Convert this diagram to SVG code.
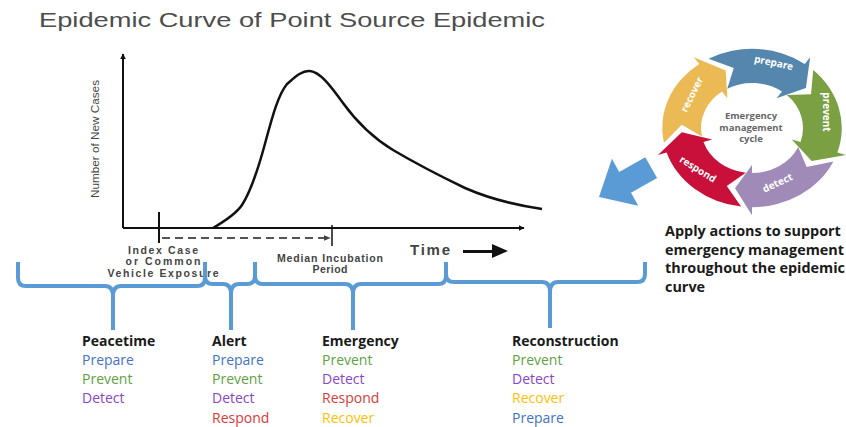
<svg xmlns="http://www.w3.org/2000/svg" xmlns:xlink="http://www.w3.org/1999/xlink" width="846" height="427" viewBox="0 0 846 427">
<style>
.title{font-family:"Liberation Sans",Arial,sans-serif;font-size:21px;fill:#4d4d4d}
.ax{font-family:"Liberation Sans",Arial,sans-serif;fill:#444}
.brace{fill:none;stroke:#5B9BD5;stroke-width:4;stroke-linejoin:round;stroke-linecap:butt}
.hd{font-family:"Open Sans","Liberation Sans",sans-serif;font-size:14px;font-weight:bold;fill:#1a1a1a}
.it{font-family:"Open Sans","Liberation Sans",sans-serif;font-size:14px}
.prep{fill:#4472C4}.prev{fill:#62A044}.det{fill:#8A45C8}.resp{fill:#D93A3A}.rec{fill:#FFC000}
.seg{font-family:"Open Sans","Liberation Sans",sans-serif;font-size:10px;font-weight:bold;fill:#fff}
.ctr{font-family:"Open Sans","Liberation Sans",sans-serif;font-size:9.5px;font-weight:bold;fill:#666}
.note{font-family:"Open Sans","Liberation Sans",sans-serif;font-size:14.4px;font-weight:bold;fill:#1a1a1a}
</style>
<defs>
<marker id="ah" viewBox="0 0 10 10" refX="9" refY="5" markerWidth="6" markerHeight="6" orient="auto" markerUnits="userSpaceOnUse"><path d="M0,0 L10,5 L0,10 Z" fill="#111"/></marker>
<marker id="ahd" viewBox="0 0 10 10" refX="9" refY="5" markerWidth="7" markerHeight="7" orient="auto" markerUnits="userSpaceOnUse"><path d="M0,1 L10,5 L0,9 Z" fill="#444"/></marker>
<path id="seg" d="M16.79,-86.38 A88,88 0 0 1 85.38,-21.29 L94.12,-23.47 L69,0 L39.78,-9.92 L48.51,-12.10 A50,50 0 0 0 9.54,-49.08 L29.16,-62.54 Z"/>
</defs>
<rect width="846" height="427" fill="#fff"/>

<g id="chart">
<text class="title" x="39" y="27" textLength="506" lengthAdjust="spacingAndGlyphs">Epidemic Curve of Point Source Epidemic</text>
<line x1="123" y1="228" x2="123" y2="54" stroke="#111" stroke-width="2" marker-end="url(#ah)"/>
<line x1="123" y1="228" x2="524" y2="228" stroke="#111" stroke-width="2" marker-end="url(#ah)"/>
<text class="ax" transform="translate(99,139) rotate(-90)" text-anchor="middle" font-size="11" fill="#222" textLength="118" lengthAdjust="spacingAndGlyphs">Number of New Cases</text>
<path d="M213,228 C225,221 236,214 242,205 C250,193 258,170 266,140 C272,118 278,95 287,84 C294,78 302,70 310,71 C320,72 330,85 343,103 C356,121 370,136 393,150 C415,163 440,176 465,188 C490,199 515,205 542,209" fill="none" stroke="#111" stroke-width="2.5"/>
<line x1="159" y1="212" x2="159" y2="243" stroke="#111" stroke-width="2"/>
<line x1="332" y1="225" x2="332" y2="246" stroke="#111" stroke-width="1.5"/>
<line x1="162" y1="238" x2="330" y2="238" stroke="#555" stroke-width="2" stroke-dasharray="8,5" marker-end="url(#ahd)"/>
<g class="ax" font-size="10.5" font-weight="bold" text-anchor="middle" fill="#555">
<text x="163" y="254" textLength="70" lengthAdjust="spacing">Index Case</text>
<text x="163" y="265" textLength="75" lengthAdjust="spacing">or Common</text>
<text x="163" y="277" textLength="111" lengthAdjust="spacing">Vehicle Exposure</text>
<text x="330" y="262" textLength="106" lengthAdjust="spacing">Median Incubation</text>
<text x="330" y="273" textLength="35" lengthAdjust="spacing">Period</text>
</g>
<text class="ax" x="410" y="255" font-size="15" font-weight="bold" fill="#222" textLength="40" lengthAdjust="spacing">Time</text>
<path d="M463,250 H492 V244 L508,251 L492,258 V253 H463 Z" fill="#111"/>
</g>

<g id="connectors">
<path class="brace" d="M18,262 V278 Q18,286 26,286 H105 Q113,286 113,296 V330 M113,296 Q113,286 121,286 H197 Q205,286 205,278 V262"/>
<path class="brace" d="M205,262 V276 Q205,284 213,284 H223 Q231,284 231,294 V330 M231,294 Q231,284 239,284 H247 Q255,284 255,276 V262"/>
<path class="brace" d="M255,262 V276 Q255,284 263,284 H345 Q353,284 353,294 V330 M353,294 Q353,284 361,284 H438 Q446,284 446,276 V262"/>
<path class="brace" d="M446,262 V274 Q446,282 454,282 H542 Q550,282 550,292 V328 M550,292 Q550,282 558,282 H637 Q645,282 645,274 V262"/>
<path d="M599,197 L611.9,158.8 L619.2,171.9 L645.3,157.2 L657.1,178 L631,192.7 L638.3,205.8 Z" fill="#5B9BD5"/>
</g>

<g id="peacetime">
<text class="hd" x="82" y="346">Peacetime</text>
<text class="it prep" x="82" y="365">Prepare</text>
<text class="it prev" x="82" y="384">Prevent</text>
<text class="it det" x="82" y="403">Detect</text>
</g>
<g id="alert">
<text class="hd" x="212" y="346">Alert</text>
<text class="it prep" x="212" y="365">Prepare</text>
<text class="it prev" x="212" y="384">Prevent</text>
<text class="it det" x="212" y="403">Detect</text>
<text class="it resp" x="212" y="423">Respond</text>
</g>
<g id="emergency">
<text class="hd" x="322" y="346">Emergency</text>
<text class="it prev" x="322" y="365">Prevent</text>
<text class="it det" x="322" y="384">Detect</text>
<text class="it resp" x="322" y="403">Respond</text>
<text class="it rec" x="322" y="423">Recover</text>
</g>
<g id="reconstruction">
<text class="hd" x="512" y="346">Reconstruction</text>
<text class="it prev" x="512" y="365">Prevent</text>
<text class="it det" x="512" y="384">Detect</text>
<text class="it rec" x="512" y="403">Recover</text>
<text class="it prep" x="512" y="423">Prepare</text>
</g>

<g id="cycle">
<g transform="translate(752,128) scale(1.02,0.9)">
<use xlink:href="#seg" transform="rotate(-40)" fill="#5486AE"/>
<use xlink:href="#seg" transform="rotate(32)" fill="#7BA043"/>
<use xlink:href="#seg" transform="rotate(104)" fill="#A08BB8"/>
<use xlink:href="#seg" transform="rotate(176)" fill="#C8103A"/>
<use xlink:href="#seg" transform="rotate(248)" fill="#EBBA55"/>
</g>
<text class="seg" text-anchor="middle" transform="translate(773,66) rotate(12)">prepare</text>
<text class="seg" text-anchor="middle" transform="translate(823,112) rotate(90)">prevent</text>
<text class="seg" text-anchor="middle" transform="translate(779,186) rotate(-25)">detect</text>
<text class="seg" text-anchor="middle" transform="translate(696,172) rotate(32)">respond</text>
<text class="seg" text-anchor="middle" transform="translate(695,96) rotate(-63)">recover</text>
<text class="ctr" text-anchor="middle" x="751" y="119">Emergency</text>
<text class="ctr" text-anchor="middle" x="751" y="130.5">management</text>
<text class="ctr" text-anchor="middle" x="751" y="142">cycle</text>
</g>

<g id="note">
<text class="note" x="665" y="236">Apply actions to support</text>
<text class="note" x="665" y="254.5">emergency management</text>
<text class="note" x="665" y="273">throughout the epidemic</text>
<text class="note" x="665" y="291.5">curve</text>
</g>
</svg>
